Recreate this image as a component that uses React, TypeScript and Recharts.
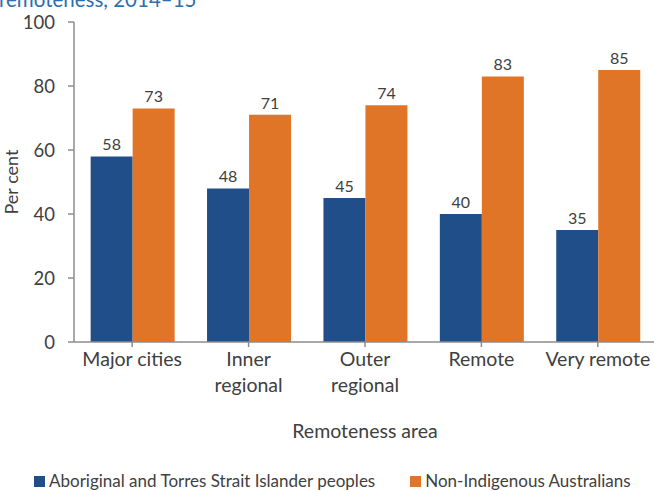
import React from 'react';
import {
  BarChart,
  Bar,
  XAxis,
  YAxis,
  Legend,
  LabelList,
} from 'recharts';

// values (per cent)
const categories = ['Major cities', 'Inner regional', 'Outer regional', 'Remote', 'Very remote'];
const tickLines: string[][] = [
  ['Major cities'],
  ['Inner', 'regional'],
  ['Outer', 'regional'],
  ['Remote'],
  ['Very remote'],
];
const indigenous = [58, 48, 45, 40, 35];
const nonIndigenous = [73, 71, 74, 83, 85];
const yTicks = [0, 20, 40, 60, 80, 100];

const BLUE = '#1F4E89';
const ORANGE = '#E07527';
const TEXT = '#404040';
const AXIS = '#8C8C8C';
const FONT = 'Lato, "Open Sans", sans-serif';

const data = categories.map((name, i) => ({
  name,
  indigenous: indigenous[i],
  nonIndigenous: nonIndigenous[i],
}));

const CategoryTick = (props: any) => {
  const { x, y, index } = props;
  const lines = tickLines[index] || [];
  return (
    <g transform={`translate(${x},${y})`}>
      {lines.map((line, i) => (
        <text
          key={i}
          x={0}
          y={19 + i * 26}
          textAnchor='middle'
          fill={TEXT}
          fontSize={19.5}
          fontFamily={FONT}
        >
          {line}
        </text>
      ))}
    </g>
  );
};

const renderLegend = () => (
  <div
    style={{
      display: 'flex',
      alignItems: 'center',
      paddingLeft: 34,
      fontFamily: FONT,
      fontSize: 17,
      color: TEXT,
      lineHeight: '20px',
      whiteSpace: 'nowrap',
    }}
  >
    <div style={{ display: 'flex', alignItems: 'center' }}>
      <div style={{ width: 11, height: 11, background: BLUE, marginRight: 4 }} />
      <span>Aboriginal and Torres Strait Islander peoples</span>
    </div>
    <div style={{ display: 'flex', alignItems: 'center', marginLeft: 35 }}>
      <div style={{ width: 11, height: 11, background: ORANGE, marginRight: 4 }} />
      <span>Non-Indigenous Australians</span>
    </div>
  </div>
);

export default function App() {
  return (
    <div
      style={{
        position: 'absolute',
        left: 0,
        top: 0,
        width: 654,
        height: 491,
        overflow: 'hidden',
        background: '#fff',
        fontFamily: FONT,
      }}
    >
      <svg
        width={654}
        height={20}
        style={{ position: 'absolute', left: 0, top: 0, zIndex: 2 }}
      >
        <text x={-1} y={7} fill='#2E6FB0' fontSize={20.5} fontFamily={FONT}>
          remoteness, 2014–15
        </text>
      </svg>
      <BarChart
        width={700}
        height={491}
        data={data}
        margin={{ top: 22, right: 44, left: 0, bottom: 0 }}
        barCategoryGap='14.3%'
        barGap={0}
      >
        <YAxis
          width={74}
          domain={[0, 100]}
          ticks={yTicks}
          interval={0}
          axisLine={{ stroke: AXIS, strokeWidth: 1.5 }}
          tickLine={{ stroke: AXIS, strokeWidth: 1.5 }}
          tickSize={6}
          tickMargin={13}
          tick={{ fill: TEXT, fontSize: 18.5, fontFamily: FONT }}
          label={{
            value: 'Per cent',
            angle: -90,
            position: 'insideLeft',
            offset: 12,
            style: { textAnchor: 'middle', fill: TEXT, fontSize: 18, fontFamily: FONT },
          }}
        />
        <XAxis
          dataKey='name'
          height={149}
          interval={0}
          axisLine={{ stroke: AXIS, strokeWidth: 1.5 }}
          tickLine={{ stroke: AXIS, strokeWidth: 1.5 }}
          tickSize={5}
          tickMargin={0}
          tick={<CategoryTick />}
          label={{
            value: 'Remoteness area',
            position: 'insideTop',
            offset: 82,
            style: { fill: TEXT, fontSize: 19.5, fontFamily: FONT },
          }}
        />
        <Legend
          layout='horizontal'
          verticalAlign='middle'
          align='center'
          content={renderLegend}
          wrapperStyle={{ top: 471, left: 0, width: 654 }}
        />
        <Bar
          dataKey='indigenous'
          name='Aboriginal and Torres Strait Islander peoples'
          fill={BLUE}
          isAnimationActive={false}
        >
          <LabelList
            dataKey='indigenous'
            position='top'
            offset={6}
            fill={TEXT}
            fontSize={16}
            fontFamily={FONT}
          />
        </Bar>
        <Bar
          dataKey='nonIndigenous'
          name='Non-Indigenous Australians'
          fill={ORANGE}
          isAnimationActive={false}
        >
          <LabelList
            dataKey='nonIndigenous'
            position='top'
            offset={6}
            fill={TEXT}
            fontSize={16}
            fontFamily={FONT}
          />
        </Bar>
      </BarChart>
    </div>
  );
}
